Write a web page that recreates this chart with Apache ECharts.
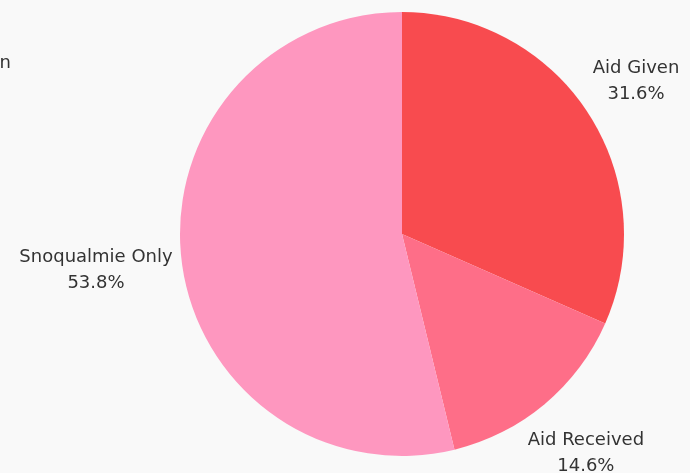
<!DOCTYPE html>
<html>
<head>
<meta charset="utf-8">
<script src="https://cdn.jsdelivr.net/npm/echarts@6/dist/echarts.min.js"></script>
<style>
html,body{margin:0;padding:0;background:#f9f9f9;}
#chart{width:690px;height:473px;}
</style>
</head>
<body>
<div id="chart"></div>
<script>
var categories = ['Aid Given', 'Aid Received', 'Snoqualmie Only'];
var values = [31.6, 14.6, 53.8];
var colors = ['#f84b4f', '#fe6e88', '#fe97bf'];

var chart = echarts.init(document.getElementById('chart'));
var CX = 402, CY = 234, R = 222, OFF = 7;
var total = values.reduce(function (a, b) { return a + b; }, 0);

function midAngle(i) {
  var acc = 0;
  for (var k = 0; k < i; k++) acc += values[k];
  return (acc + values[i] / 2) / total * Math.PI * 2;
}

var option = {
  backgroundColor: '#f9f9f9',
  graphic: [{
    type: 'text', right: 679, top: 54,
    style: { text: 'Aid Given', fill: '#333', font: '18px "DejaVu Sans"', textAlign: 'right' }
  }],
  series: [{
    type: 'pie',
    center: [CX, CY],
    radius: [0, R],
    startAngle: 90,
    clockwise: true,
    animation: false,
    silent: true,
    data: categories.map(function (c, i) {
      return { name: c, value: values[i], itemStyle: { color: colors[i] } };
    }),
    label: {
      show: true,
      formatter: function (p) { return p.name + '\n' + p.value.toFixed(1) + '%'; },
      color: '#333',
      fontFamily: 'DejaVu Sans',
      fontSize: 18,
      lineHeight: 26,
      overflow: 'none',
      edgeDistance: 0
    },
    labelLine: { show: false },
    labelLayout: function (p) {
      var a = midAngle(p.dataIndex);
      var ux = Math.sin(a), uy = -Math.cos(a);
      var w = p.labelRect.width, h = p.labelRect.height;
      var d = R + OFF + Math.abs(ux) * w / 2 + Math.abs(uy) * h / 2;
      return {
        x: CX + d * ux,
        y: CY + d * uy,
        align: 'center',
        verticalAlign: 'middle'
      };
    }
  }]
};
chart.setOption(option);
</script>
</body>
</html>
